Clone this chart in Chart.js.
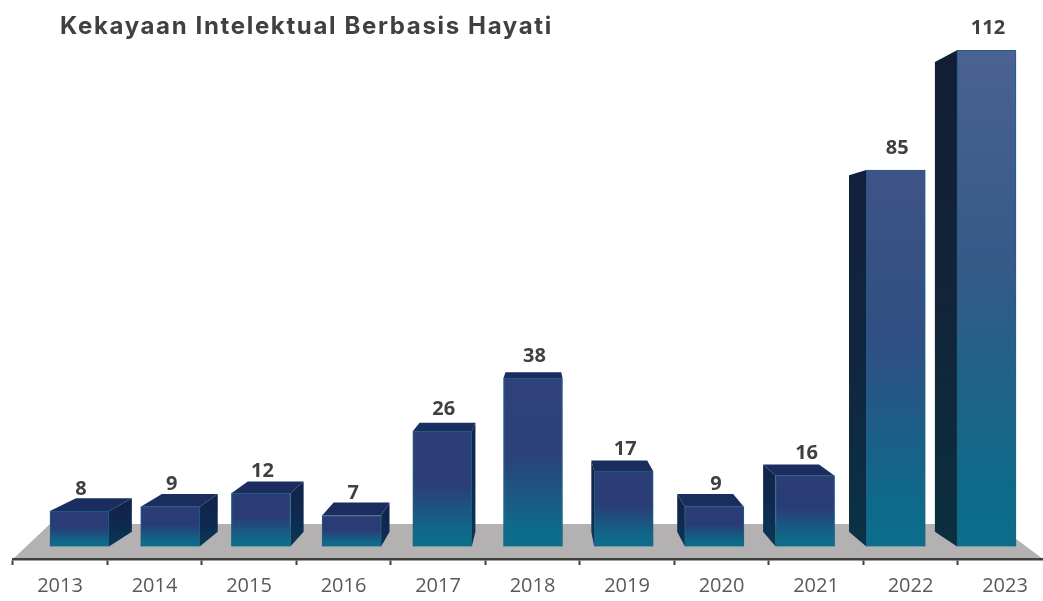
<!DOCTYPE html>
<html>
<head>
<meta charset="utf-8">
<style>
html,body{margin:0;padding:0;background:#fff;overflow:hidden}
#wrap{width:1043px;height:601px;position:relative;overflow:hidden}
canvas{display:block}
</style>
<script src="https://cdn.jsdelivr.net/npm/chart.js@4"></script>
</head>
<body>
<div id="wrap"><canvas id="c" width="1053" height="601"></canvas></div>
<script>
const chartTitle = 'Kekayaan Intelektual Berbasis Hayati';
const categories = ['2013','2014','2015','2016','2017','2018','2019','2020','2021','2022','2023'];
const values = [8,9,12,7,26,38,17,9,16,85,112];

// 3D look: every depth line runs to one vanishing point
const vanishing = {x:540, y:268, depth:0.053};
const FONT = '"Open Sans", sans-serif';
const TEAL = [12,110,139], NAVY = [42,59,118], STEEL = [75,97,146];

function mix(a,b,t){return a.map((v,i)=>Math.round(v+(b[i]-v)*t));}
function rgb(a){return 'rgb('+a.join(',')+')';}
function back(x,y){return [x+(vanishing.x-x)*vanishing.depth, y+(vanishing.y-y)*vanishing.depth];}

function frontFill(ctx){
  const sc = ctx.chart.scales.y;
  if(!sc || !ctx.raw) return rgb(NAVY);
  const base = sc.getPixelForValue(0), top = sc.getPixelForValue(ctx.raw.y);
  if(!Number.isFinite(base) || !Number.isFinite(top)) return rgb(NAVY);
  const h = Math.min(1,(base-top)/496);
  const lift = Math.pow(h,1.6);
  const g = ctx.chart.ctx.createLinearGradient(0,base,0,top);
  g.addColorStop(0,rgb(TEAL));
  g.addColorStop(0.12,rgb(mix(TEAL,NAVY,0.08)));
  g.addColorStop(0.55,rgb(mix(NAVY,[52,90,136],lift)));
  g.addColorStop(1,rgb(mix(NAVY,STEEL,lift)));
  return g;
}

const floorPlugin = {
  id:'floor',
  beforeDraw(chart){
    const {ctx,chartArea:a} = chart;
    const y0 = a.bottom, y1 = a.bottom-35;
    ctx.save();
    ctx.fillStyle = '#b3b1b1';
    ctx.beginPath();
    ctx.moveTo(13,y0);
    ctx.lineTo(50,y1);
    ctx.lineTo(996,y1);
    ctx.lineTo(1043,y0);
    ctx.closePath();
    ctx.fill();
    ctx.restore();
  }
};

const solidPlugin = {
  id:'solid',
  beforeDatasetsDraw(chart){
    const {ctx} = chart;
    chart.getDatasetMeta(0).data.forEach(el=>{
      const {x,y,base,width} = el.getProps(['x','y','base','width'],true);
      const x0 = x-width/2, x1 = x+width/2;
      const h = Math.min(1,(base-y)/496);
      const sg = ctx.createLinearGradient(0,y,0,base);
      sg.addColorStop(0,rgb(mix([17,38,78],[18,30,53],h)));
      sg.addColorStop(0.5,rgb(mix([13,44,82],[18,35,58],h)));
      sg.addColorStop(1,rgb(mix([10,58,88],[10,48,64],h)));
      ctx.save();
      const face = (pts,fill)=>{
        ctx.beginPath();
        pts.forEach((p,i)=> i?ctx.lineTo(p[0],p[1]):ctx.moveTo(p[0],p[1]));
        ctx.closePath();
        ctx.fillStyle = fill;
        ctx.fill();
      };
      // top face: seen only when the bar top is below the vanishing line
      if(y>vanishing.y){
        face([[x0,y],back(x0,y),back(x1,y),[x1,y]],'#1b2d5e');
      }
      if(x1<vanishing.x){
        face([[x1,y],back(x1,y),back(x1,base),[x1,base]],sg);
      } else if(x0>vanishing.x){
        face([[x0,y],back(x0,y),back(x0,base),[x0,base]],sg);
      }
      ctx.restore();
    });
  }
};

const labelPlugin = {
  id:'valueLabels',
  afterDatasetsDraw(chart){
    const {ctx} = chart;
    ctx.save();
    ctx.font = '700 20px '+FONT;
    ctx.fillStyle = '#404040';
    ctx.textAlign = 'center';
    ctx.textBaseline = 'middle';
    chart.getDatasetMeta(0).data.forEach((el,i)=>{
      ctx.fillText(String(values[i]),el.x+1.5,el.y-22);
    });
    ctx.restore();
  }
};

const titlePlacer = {
  id:'titlePlacer',
  afterLayout(chart){
    const t = chart.titleBlock;
    if(!t) return;
    t.left = 60;
    if(!t._spaced){
      t._spaced = true;
      const draw = t.draw;
      t.draw = function(...args){
        const ctx = this.ctx;
        ctx.save();
        ctx.letterSpacing = '1.65px';
        draw.apply(this,args);
        ctx.restore();
      };
    }
  }
};

new Chart(document.getElementById('c'),{
  type:'bar',
  data:{
    labels:categories,
    datasets:[{
      data:categories.map((c,i)=>({x:i,y:values[i]})),
      xAxisID:'xb',
      yAxisID:'y',
      barThickness:59,
      backgroundColor:frontFill,
      borderColor:'#1c5f80',
      borderWidth:1
    }]
  },
  options:{
    responsive:false,
    animation:false,
    events:[],
    layout:{padding:{left:12.75,right:0.75,top:0,bottom:0}},
    plugins:{
      legend:{display:false},
      tooltip:{enabled:false},
      title:{
        display:true,
        text:chartTitle,
        align:'start',
        color:'#404040',
        font:{family:'Inter, sans-serif',size:24,weight:'700',lineHeight:1.2},
        padding:{top:12.6,bottom:0}
      }
    },
    scales:{
      x:{
        type:'category',
        position:'bottom',
        offset:true,
        afterFit(s){s.height=42;},
        border:{display:true,color:'#404040',width:2.5},
        grid:{display:true,offset:true,drawOnChartArea:false,drawTicks:true,tickLength:6,tickColor:'#404040',tickWidth:2,color:'#404040'},
        ticks:{autoSkip:false,maxRotation:0,color:'#595959',padding:9,font:{family:FONT,size:20}}
      },
      xb:{
        type:'linear',
        axis:'x',
        position:'bottom',
        display:false,
        offset:false,
        min:-0.736,
        max:10.725,
        grid:{display:false,offset:false}
      },
      y:{
        type:'linear',
        display:false,
        min:-2.82,
        max:114.02,
        grid:{display:false}
      }
    }
  },
  plugins:[floorPlugin,solidPlugin,labelPlugin,titlePlacer]
});
</script>
</body>
</html>
